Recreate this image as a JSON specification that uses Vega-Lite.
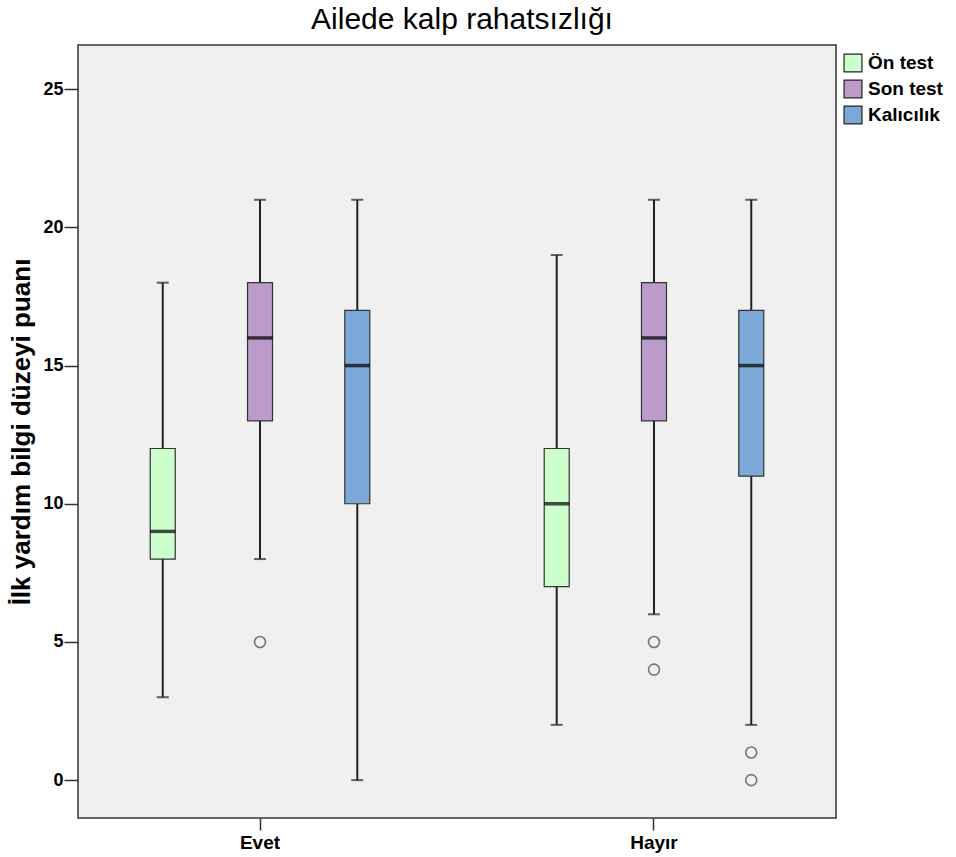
{
  "$schema": "https://vega.github.io/schema/vega-lite/v6.json",
  "width": 758,
  "height": 773,
  "autosize": {"type": "none"},
  "padding": {"left": 78, "top": 45, "right": 120, "bottom": 39},
  "background": "white",
  "title": {"text": "Ailede kalp rahatsızlığı", "fontSize": 30, "font": "Liberation Sans", "fontWeight": "normal", "color": "#000", "offset": 10, "dx": 5},
  "config": {
    "view": {"fill": "#F0F0F0", "stroke": "#333", "strokeWidth": 1.5},
    "axis": {"labelFont": "Liberation Sans", "labelFontWeight": "bold", "labelColor": "#000", "tickColor": "#333", "tickWidth": 1.5, "domain": false, "grid": false, "titleFont": "Liberation Sans", "titleColor": "#000"},
    "legend": {"labelFont": "Liberation Sans", "labelFontWeight": "bold", "labelColor": "#000"}
  },
  "datasets": {
    "boxes": [
      {"grup": "Evet", "seri": "Ön test", "min": 3, "q1": 8, "median": 9, "q3": 12, "max": 18},
      {"grup": "Evet", "seri": "Son test", "min": 8, "q1": 13, "median": 16, "q3": 18, "max": 21},
      {"grup": "Evet", "seri": "Kalıcılık", "min": 0, "q1": 10, "median": 15, "q3": 17, "max": 21},
      {"grup": "Hayır", "seri": "Ön test", "min": 2, "q1": 7, "median": 10, "q3": 12, "max": 19},
      {"grup": "Hayır", "seri": "Son test", "min": 6, "q1": 13, "median": 16, "q3": 18, "max": 21},
      {"grup": "Hayır", "seri": "Kalıcılık", "min": 2, "q1": 11, "median": 15, "q3": 17, "max": 21}
    ],
    "outliers": [
      {"grup": "Evet", "seri": "Son test", "value": 5},
      {"grup": "Hayır", "seri": "Son test", "value": 5},
      {"grup": "Hayır", "seri": "Son test", "value": 4},
      {"grup": "Hayır", "seri": "Kalıcılık", "value": 1},
      {"grup": "Hayır", "seri": "Kalıcılık", "value": 0}
    ]
  },
  "encoding": {
    "x": {"field": "grup", "type": "nominal", "sort": ["Evet", "Hayır"],
      "scale": {"paddingInner": 0.08, "paddingOuter": 0.002},
      "axis": {"title": null, "labelAngle": 0, "labelFontSize": 19, "tickSize": 12, "labelPadding": 3}},
    "xOffset": {"field": "seri", "type": "nominal", "sort": ["Ön test", "Son test", "Kalıcılık"],
      "scale": {"domain": ["Ön test", "Son test", "Kalıcılık"], "paddingInner": 0, "paddingOuter": 0.363}}
  },
  "layer": [
    {
      "data": {"name": "boxes"},
      "mark": {"type": "rule", "color": "#222", "strokeWidth": 2},
      "encoding": {
        "y": {"field": "min", "type": "quantitative",
          "scale": {"domain": [-1.37, 26.6], "nice": false, "zero": false},
          "axis": {"values": [0, 5, 10, 15, 20, 25], "title": "İlk yardım bilgi düzeyi puanı", "titleFontSize": 26, "titleFontWeight": "bold", "labelFontSize": 18, "tickSize": 14, "labelPadding": 1, "titlePadding": 8}},
        "y2": {"field": "max"}
      }
    },
    {
      "data": {"name": "boxes"},
      "mark": {"type": "tick", "color": "#222", "thickness": 2, "size": 12, "orient": "horizontal"},
      "encoding": {"y": {"field": "min", "type": "quantitative"}}
    },
    {
      "data": {"name": "boxes"},
      "mark": {"type": "tick", "color": "#222", "thickness": 2, "size": 12, "orient": "horizontal"},
      "encoding": {"y": {"field": "max", "type": "quantitative"}}
    },
    {
      "data": {"name": "boxes"},
      "mark": {"type": "bar", "size": 25, "stroke": "#333", "strokeWidth": 1.2},
      "encoding": {
        "y": {"field": "q1", "type": "quantitative"},
        "y2": {"field": "q3"},
        "fill": {"field": "seri", "type": "nominal", "sort": ["Ön test", "Son test", "Kalıcılık"],
          "scale": {"domain": ["Ön test", "Son test", "Kalıcılık"], "range": ["#CCFFCC", "#BA9BC9", "#7BA8D6"]},
          "legend": {"title": null, "orient": "none", "legendX": 765, "legendY": 8, "symbolType": "square", "symbolSize": 320, "symbolStrokeColor": "#222", "symbolStrokeWidth": 1.2, "labelFontSize": 19, "rowPadding": 2, "symbolOffset": 0, "labelOffset": 5}}
      }
    },
    {
      "data": {"name": "boxes"},
      "mark": {"type": "tick", "color": "#000", "thickness": 3.5, "size": 25, "orient": "horizontal"},
      "encoding": {"y": {"field": "median", "type": "quantitative"}}
    },
    {
      "data": {"name": "outliers"},
      "mark": {"type": "point", "shape": "circle", "filled": false, "size": 120, "stroke": "#444", "strokeWidth": 1.6},
      "encoding": {"y": {"field": "value", "type": "quantitative"}}
    }
  ]
}
